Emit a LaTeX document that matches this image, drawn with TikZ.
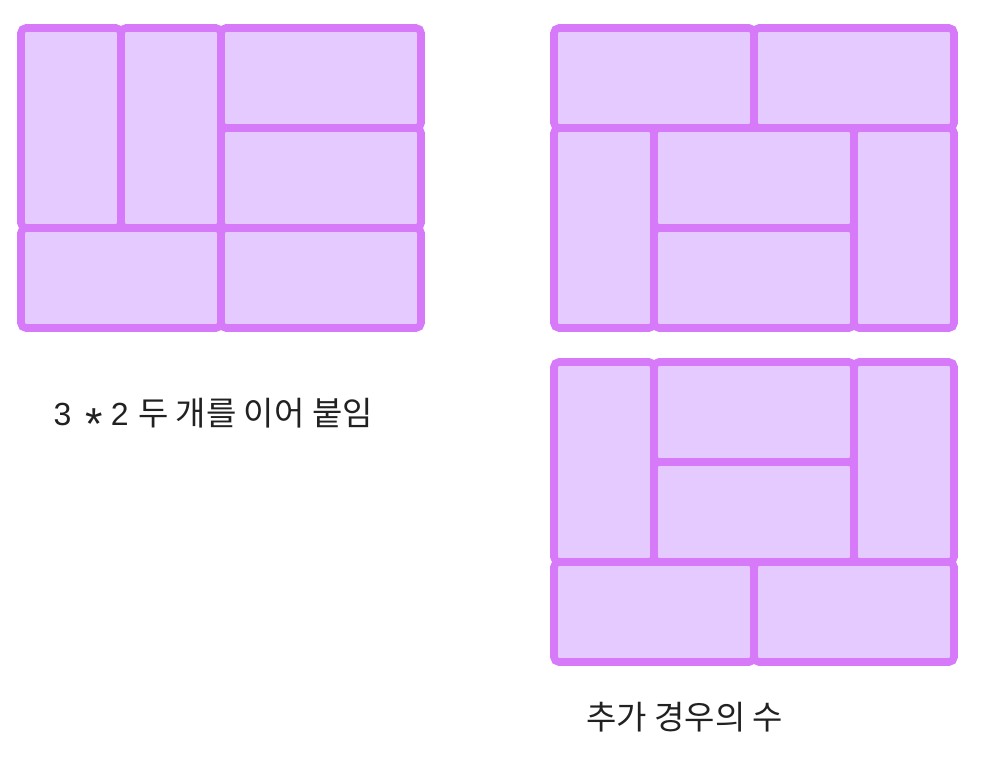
\documentclass[tikz,border=0pt]{standalone}
\usepackage{fontspec}
\newfontfamily\kr{Noto Sans CJK KR}
\newfontfamily\lat{Liberation Sans}
\definecolor{edgec}{RGB}{214,122,250}
\definecolor{tilec}{RGB}{228,202,255}
\begin{document}
\begin{tikzpicture}[x=1pt,y=-1pt,
  tile/.style={draw=edgec, fill=tilec, line width=7.6pt, rounded corners=5pt},
  caption/.style={font=\kr\fontsize{33}{38}\selectfont, text=black!87, inner sep=0pt, anchor=base west}]
\useasboundingbox (0,0) rectangle (982,757);
% left figure
\path[tile] (21,28) rectangle (121,228);
\path[tile] (121,28) rectangle (221,228);
\path[tile] (221,28) rectangle (421,128);
\path[tile] (221,128) rectangle (421,228);
\path[tile] (21,228) rectangle (221,328);
\path[tile] (221,228) rectangle (421,328);
% right top figure
\path[tile] (554,28) rectangle (754,128);
\path[tile] (754,28) rectangle (954,128);
\path[tile] (554,128) rectangle (654,328);
\path[tile] (654,128) rectangle (854,228);
\path[tile] (654,228) rectangle (854,328);
\path[tile] (854,128) rectangle (954,328);
% right bottom figure
\path[tile] (554,362) rectangle (654,562);
\path[tile] (654,362) rectangle (854,462);
\path[tile] (654,462) rectangle (854,562);
\path[tile] (854,362) rectangle (954,562);
\path[tile] (554,562) rectangle (754,662);
\path[tile] (754,562) rectangle (954,662);
% captions
\node[caption] (t1) at (53.5,425) {{\lat\fontsize{32}{38}\selectfont 3\hspace{14pt}\raisebox{-14.5pt}{\scalebox{1.4}{*}}\hspace{8pt}2}\hspace{2pt} 두 개를 이어 붙임};
\node[caption] (t2) at (586,729) {추가 경우의 수};
\end{tikzpicture}
\end{document}
